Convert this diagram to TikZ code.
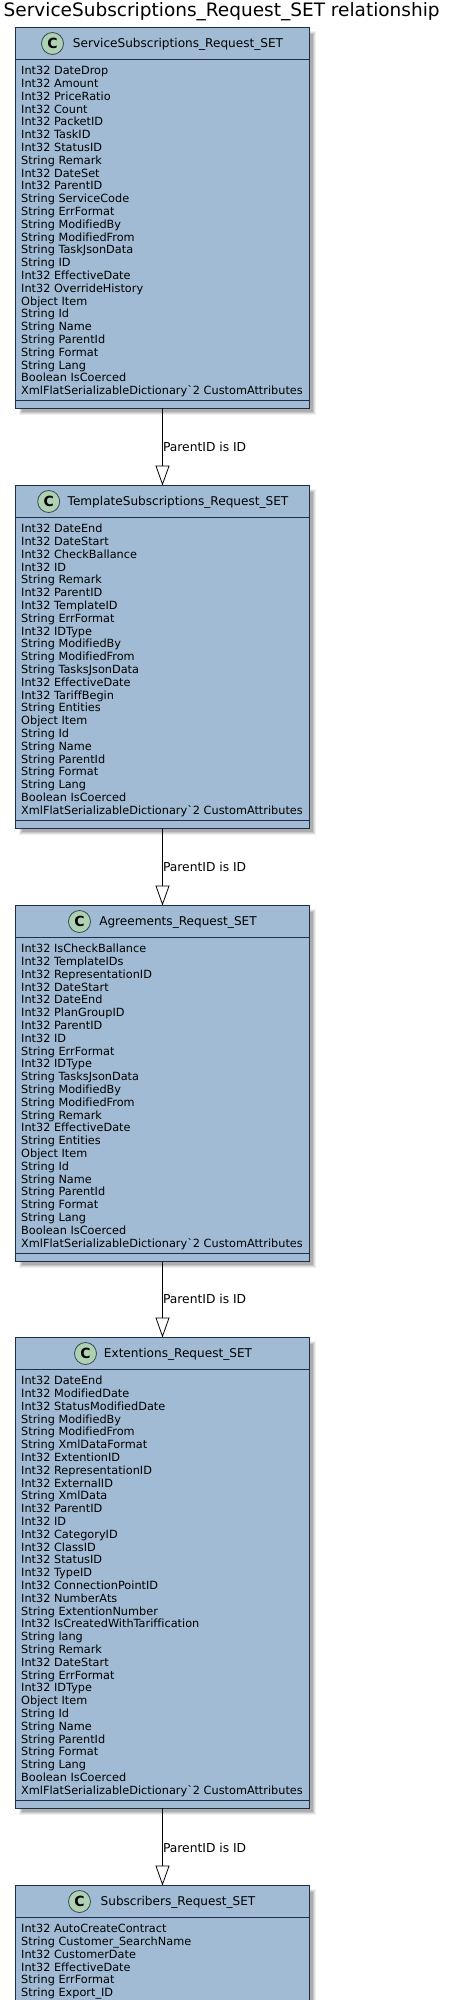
\documentclass[tikz,border=0pt]{standalone}
\usepackage{fontspec}
\setmainfont{DejaVu Sans}[Ligatures=NoCommon]
\usetikzlibrary{arrows.meta}
\definecolor{boxfill}{HTML}{A0BBD3}
\definecolor{boxline}{HTML}{1D2E4A}
\definecolor{spot}{HTML}{ADD1B2}
\definecolor{spotline}{HTML}{3A4A50}
\tikzset{
  classframe/.style={draw=boxline,fill=boxfill,line width=1pt,rectangle,inner sep=0pt,outer sep=0pt,anchor=north west,minimum width=294pt},
  classtitle/.style={inner sep=0pt,anchor=base,font=\fontsize{12.1}{13}\selectfont},
  fieldlist/.style={inner sep=0pt,anchor=north west,align=left,font=\fontsize{11.3}{12.8}\selectfont},
  classspot/.style={circle,draw=spotline,fill=spot,line width=.8pt,minimum size=22pt,inner sep=0pt,font=\fontsize{14}{14}\bfseries\selectfont},
  rellabel/.style={inner sep=0pt,anchor=base west,font=\fontsize{12.3}{13}\selectfont},
  relation/.style={draw=black,line width=1pt,-{Triangle[open,length=20pt,width=14pt,line width=.8pt]}},
  divider/.style={draw=boxline,line width=.8pt},
  pagetitle/.style={inner sep=0pt,anchor=base west,font=\fontsize{18.5}{20}\selectfont}
}
% id, top, bottom, title, spot x, fields
\newcommand{\classbox}[6]{%
  \foreach \d/\o in {0/.06,1/.08,2/.10,3/.12}{
    \fill[black,opacity=\o] (15.5+3+\d,#2+3+\d) rectangle (309.5+6.5-\d,#3+6.5-\d);
  }
  \pgfmathsetmacro{\hh}{#3-#2}
  \node[classframe,minimum height=\hh pt] (#1) at (15.5,#2) {};
  \draw[divider] (15.5,#2+32) -- (309.5,#2+32);
  \draw[divider] (15.5,#3-8) -- (309.5,#3-8);
  \node[classspot] (#1s) at (#5,#2+16) {C};
  \node[classtitle] (#1t) at (178,#2+20) {#4};
  \node[fieldlist] (#1f) at (21,#2+37) {\rule{0pt}{10pt}#6};
}
\newcommand{\xmlattr}{XmlFlatSerializableDictionary\textasciigrave 2 CustomAttributes}
\begin{document}
\begin{tikzpicture}[x=1pt,y=-1pt]
\useasboundingbox (0,0) rectangle (448,2000);
\clip (0,0) rectangle (448,2000);
\fill[white] (0,0) rectangle (448,2000);
\node[pagetitle] (title) at (3.5,16) {ServiceSubscriptions\_Request\_SET relationship};

\classbox{a}{27.5}{408}{ServiceSubscriptions\_Request\_SET}{52.5}{Int32 DateDrop\\Int32 Amount\\Int32 PriceRatio\\Int32 Count\\Int32 PacketID\\Int32 TaskID\\Int32 StatusID\\String Remark\\Int32 DateSet\\Int32 ParentID\\String ServiceCode\\String ErrFormat\\String ModifiedBy\\String ModifiedFrom\\String TaskJsonData\\String ID\\Int32 EffectiveDate\\Int32 OverrideHistory\\Object Item\\String Id\\String Name\\String ParentId\\String Format\\String Lang\\Boolean IsCoerced\\\xmlattr}

\classbox{b}{485.5}{828}{TemplateSubscriptions\_Request\_SET}{48.7}{Int32 DateEnd\\Int32 DateStart\\Int32 CheckBallance\\Int32 ID\\String Remark\\Int32 ParentID\\Int32 TemplateID\\String ErrFormat\\Int32 IDType\\String ModifiedBy\\String ModifiedFrom\\String TasksJsonData\\Int32 EffectiveDate\\Int32 TariffBegin\\String Entities\\Object Item\\String Id\\String Name\\String ParentId\\String Format\\String Lang\\Boolean IsCoerced\\\xmlattr}

\classbox{c}{905.5}{1261.5}{Agreements\_Request\_SET}{79.5}{Int32 IsCheckBallance\\Int32 TemplateIDs\\Int32 RepresentationID\\Int32 DateStart\\Int32 DateEnd\\Int32 PlanGroupID\\Int32 ParentID\\Int32 ID\\String ErrFormat\\Int32 IDType\\String TasksJsonData\\String ModifiedBy\\String ModifiedFrom\\String Remark\\Int32 EffectiveDate\\String Entities\\Object Item\\String Id\\String Name\\String ParentId\\String Format\\String Lang\\Boolean IsCoerced\\\xmlattr}

\classbox{d}{1337.5}{1808}{Extentions\_Request\_SET}{85.5}{Int32 DateEnd\\Int32 ModifiedDate\\Int32 StatusModifiedDate\\String ModifiedBy\\String ModifiedFrom\\String XmlDataFormat\\Int32 ExtentionID\\Int32 RepresentationID\\Int32 ExternalID\\String XmlData\\Int32 ParentID\\Int32 ID\\Int32 CategoryID\\Int32 ClassID\\Int32 StatusID\\Int32 TypeID\\Int32 ConnectionPointID\\Int32 NumberAts\\String ExtentionNumber\\Int32 IsCreatedWithTariffication\\String lang\\String Remark\\Int32 DateStart\\String ErrFormat\\Int32 IDType\\Object Item\\String Id\\String Name\\String ParentId\\String Format\\String Lang\\Boolean IsCoerced\\\xmlattr}

\classbox{e}{1885.5}{2040}{Subscribers\_Request\_SET}{79.5}{Int32 AutoCreateContract\\String Customer\_SearchName\\Int32 CustomerDate\\Int32 EffectiveDate\\String ErrFormat\\String Export\_ID}

\draw[relation] (a.south) -- (b.north) node[rellabel] (lab) at (162.5,451) {ParentID is ID};
\draw[relation] (b.south) -- (c.north) node[rellabel] (lbc) at (162.5,871) {ParentID is ID};
\draw[relation] (c.south) -- (d.north) node[rellabel] (lcd) at (162.5,1303) {ParentID is ID};
\draw[relation] (d.south) -- (e.north) node[rellabel] (lde) at (162.5,1852) {ParentID is ID};
\end{tikzpicture}
\end{document}
